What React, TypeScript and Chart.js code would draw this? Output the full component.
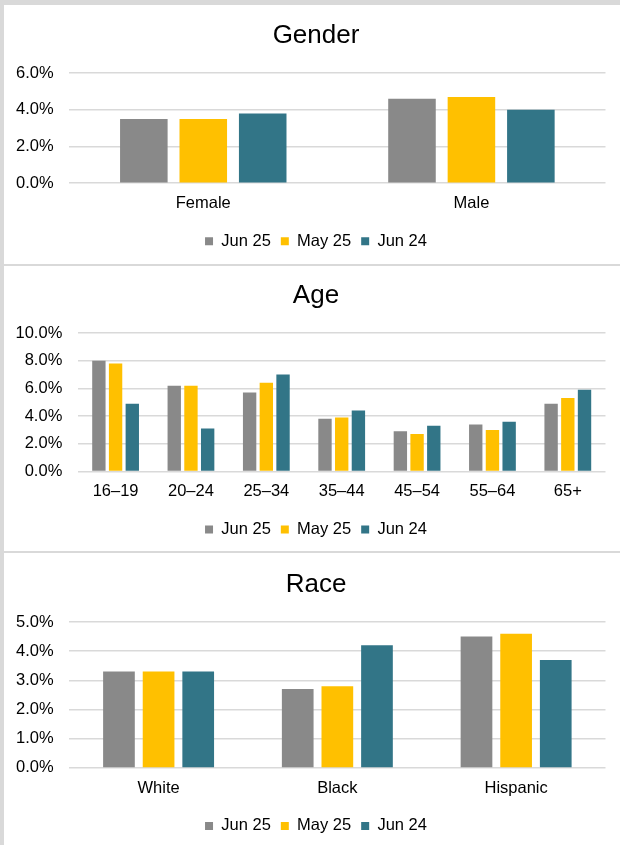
import React, { useEffect, useRef } from "react";
import { Chart, registerables } from "chart.js";

Chart.register(...registerables);

const FONT = "'Liberation Sans', Arial, sans-serif";
Chart.defaults.font.family = FONT;

const seriesNames = ["Jun 25", "May 25", "Jun 24"];
const seriesColors = ["#898989", "#ffc000", "#327587"];

const genderCategories = ["Female", "Male"];
const genderJun25 = [3.5, 4.6];
const genderMay25 = [3.5, 4.7];
const genderJun24 = [3.8, 4.0];

const ageCategories = ["16–19", "20–24", "25–34", "35–44", "45–54", "55–64", "65+"];
const ageJun25 = [8.0, 6.2, 5.7, 3.8, 2.9, 3.4, 4.9];
const ageMay25 = [7.8, 6.2, 6.4, 3.9, 2.7, 3.0, 5.3];
const ageJun24 = [4.9, 3.1, 7.0, 4.4, 3.3, 3.6, 5.9];

const raceCategories = ["White", "Black", "Hispanic"];
const raceJun25 = [3.3, 2.7, 4.5];
const raceMay25 = [3.3, 2.8, 4.6];
const raceJun24 = [3.3, 4.2, 3.7];

type PanelProps = {
  title: string;
  categories: string[];
  series: number[][];
  yMax: number;
  yStep: number;
  top: number;
  height: number;
  padTop: number;
  padBottom: number;
  bottomPad: number;
  yWidth: number;
};

function Panel(p: PanelProps) {
  const ref = useRef<HTMLCanvasElement | null>(null);
  useEffect(() => {
    if (!ref.current) return;
    const chart = new Chart(ref.current, {
      type: "bar",
      data: {
        labels: p.categories,
        datasets: p.series.map((d, i) => ({
          label: seriesNames[i],
          data: d,
          backgroundColor: seriesColors[i],
          borderWidth: 0,
          categoryPercentage: 0.665,
          barPercentage: 0.8,
          yAxisID: "y",
        })),
      },
      options: {
        responsive: false,
        animation: false,
        layout: { padding: { left: 11, right: 3, top: 0, bottom: p.bottomPad } },
        plugins: {
          title: {
            display: true,
            text: p.title,
            color: "#000",
            font: { size: 26, weight: "normal", family: FONT },
            padding: { top: p.padTop, bottom: p.padBottom },
          },
          legend: {
            position: "bottom",
            labels: {
              boxWidth: 8,
              boxHeight: 8,
              padding: 10,
              color: "#000",
              font: { size: 16.5, family: FONT },
            },
          },
          tooltip: { enabled: false },
        },
        scales: {
          x: {
            grid: { display: false, drawTicks: false },
            border: { display: false },
            ticks: {
              color: "#000",
              font: { size: 16.5, family: FONT },
              padding: 10.5,
              maxRotation: 0,
              autoSkip: false,
            },
            afterFit: (s: any) => {
              s.height -= 1;
            },
          },
          y: {
            min: 0,
            max: p.yMax,
            ticks: {
              stepSize: p.yStep,
              padding: 15.6,
              color: "#000",
              font: { size: 16.5, family: FONT },
              callback: (v: any) => Number(v).toFixed(1) + "%",
            },
            grid: { color: "#d9d9d9", lineWidth: 1.5, drawTicks: false },
            border: { display: false },
            afterFit: (s: any) => {
              s.width = p.yWidth;
            },
          },
          yRight: {
            position: "right",
            display: true,
            grid: { display: false, drawTicks: false },
            border: { display: false },
            ticks: { display: false },
            afterFit: (s: any) => {
              s.width = 11.5;
            },
          },
        },
      } as any,
    });
    return () => chart.destroy();
  }, []);
  return (
    <canvas
      ref={ref}
      width={616}
      height={p.height}
      style={{ position: "absolute", left: 4, top: p.top, width: 616, height: p.height }}
    />
  );
}

export default function App() {
  const band: React.CSSProperties = { position: "absolute", background: "#d9d9d9", zIndex: 5 };
  return (
    <div
      style={{
        position: "absolute",
        left: 0,
        top: 0,
        width: 620,
        height: 845,
        overflow: "hidden",
        background: "#ffffff",
      }}
    >
      <Panel
        title="Gender"
        categories={genderCategories}
        series={[genderJun25, genderMay25, genderJun24]}
        yMax={6}
        yStep={2}
        top={5}
        height={263}
        padTop={14.9}
        padBottom={21.9}
        bottomPad={8.5}
        yWidth={54.2}
      />
      <Panel
        title="Age"
        categories={ageCategories}
        series={[ageJun25, ageMay25, ageJun24]}
        yMax={10}
        yStep={2}
        top={266}
        height={290}
        padTop={13.9}
        padBottom={21.9}
        bottomPad={8.2}
        yWidth={62.9}
      />
      <Panel
        title="Race"
        categories={raceCategories}
        series={[raceJun25, raceMay25, raceJun24]}
        yMax={5}
        yStep={1}
        top={553}
        height={299}
        padTop={16.4}
        padBottom={21.4}
        bottomPad={7.8}
        yWidth={54.2}
      />
      <div style={{ ...band, left: 0, top: 0, width: 4, height: 845 }} />
      <div style={{ ...band, left: 0, top: 0, width: 620, height: 5 }} />
      <div style={{ ...band, left: 4, top: 264, width: 616, height: 2 }} />
      <div style={{ ...band, left: 4, top: 551, width: 616, height: 2 }} />
    </div>
  );
}
